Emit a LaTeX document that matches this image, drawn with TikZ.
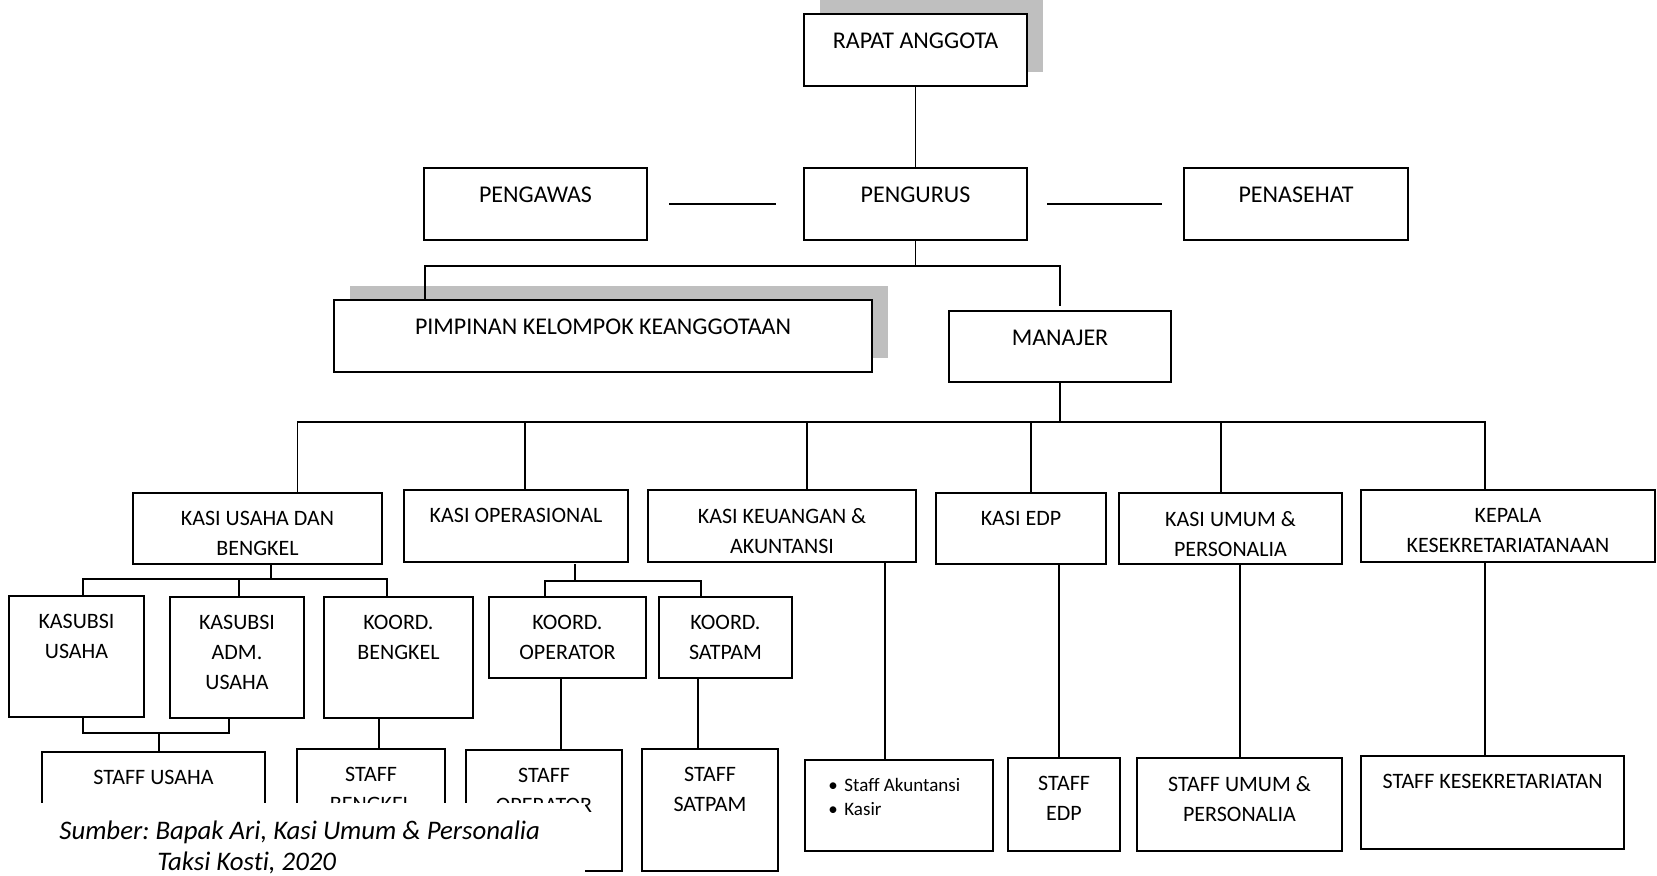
\documentclass[tikz,border=0pt]{standalone}
\usepackage{fontspec}
\setmainfont{Carlito}[Ligatures=NoCommon]
\frenchspacing
\usetikzlibrary{positioning,calc,shadows}
\definecolor{shadowgray}{RGB}{191,191,191}

\begin{document}
\begin{tikzpicture}[x=0.5pt, y=-0.5pt,
    box/.style={draw, fill=white, line width=0.8pt, inner sep=0pt, outer sep=0pt},
    shade/.style={drop shadow={shadow xshift=8pt, shadow yshift=7pt, opacity=1, fill=shadowgray}},
    big/.style={inner sep=0pt, align=center, font=\fontsize{12}{15}\selectfont},
    txt/.style={inner sep=0pt, align=center, font=\fontsize{11}{15}\selectfont},
    link/.style={line width=0.7pt},
    src/.style={inner sep=0pt, font=\fontsize{13.4}{15.5}\selectfont\itshape}]
    \useasboundingbox (0,0) rectangle (1657,875);

    % Top levels
    \node[box, shade, minimum width=111.5pt, minimum height=36pt] (rapat) at (915.5,50) {};
    \node[box, minimum width=111.5pt, minimum height=36pt] (pengurus) at (915.5,204) {};
    \node[box, minimum width=111.5pt, minimum height=36pt] (pengawas) at (535.5,204) {};
    \node[box, minimum width=112pt, minimum height=36pt] (penasehat) at (1296,204) {};
    \node[box, shade, minimum width=269pt, minimum height=36pt] (pimpinan) at (603,336) {};
    \node[box, minimum width=111pt, minimum height=35.5pt] (manajer) at (1060,346.5) {};

    \node[big, below=9.5pt of rapat.north] (rapat-t) {RAPAT ANGGOTA};
    \node[big, below=9.5pt of pengurus.north] (pengurus-t) {PENGURUS};
    \node[big, below=9.5pt of pengawas.north] (pengawas-t) {PENGAWAS};
    \node[big, below=9.5pt of penasehat.north] (penasehat-t) {PENASEHAT};
    \node[big, below=9.5pt of pimpinan.north] (pimpinan-t) {PIMPINAN KELOMPOK KEANGGOTAAN};
    \node[big, below=9.5pt of manajer.north] (manajer-t) {MANAJER};

    % Sections
    \node[box, minimum width=124.5pt, minimum height=35.5pt] (kasiusaha) at (257.5,528.5) {};
    \node[box, minimum width=112pt, minimum height=36pt] (kasiops) at (516,526) {};
    \node[box, minimum width=134pt, minimum height=36pt] (kasikeu) at (782,526) {};
    \node[box, minimum width=85pt, minimum height=35.5pt] (kasiedp) at (1021,528.5) {};
    \node[box, minimum width=111.5pt, minimum height=35.5pt] (kasiumum) at (1230.5,528.5) {};
    \node[box, minimum width=147pt, minimum height=36pt] (kepala) at (1508,526) {};

    \node[txt, below=9pt of kasiusaha.north] (kasiusaha-t) {KASI USAHA DAN\\BENGKEL};
    \node[txt, below=9pt of kasiops.north] (kasiops-t) {KASI OPERASIONAL};
    \node[txt, below=9pt of kasikeu.north] (kasikeu-t) {KASI KEUANGAN \&\\AKUNTANSI};
    \node[txt, below=9pt of kasiedp.north] (kasiedp-t) {KASI EDP};
    \node[txt, below=9pt of kasiumum.north] (kasiumum-t) {KASI UMUM \&\\PERSONALIA};
    \node[txt, below=9pt of kepala.north] (kepala-t) {KEPALA\\KESEKRETARIATANAAN};

    % Sub sections
    \node[box, minimum width=67.5pt, minimum height=60.5pt] (ksusaha) at (76.5,656.5) {};
    \node[box, minimum width=67pt, minimum height=60.5pt] (ksadm) at (237,657.5) {};
    \node[box, minimum width=74.5pt, minimum height=60.5pt] (kbengkel) at (398.5,657.5) {};
    \node[box, minimum width=78.5pt, minimum height=40.5pt] (koperator) at (567.5,637.5) {};
    \node[box, minimum width=66.5pt, minimum height=40.5pt] (ksatpam) at (725.5,637.5) {};

    \node[txt, below=9pt of ksusaha.north] (ksusaha-t) {KASUBSI\\USAHA};
    \node[txt, below=9pt of ksadm.north] (ksadm-t) {KASUBSI\\ADM.\\USAHA};
    \node[txt, below=9pt of kbengkel.north] (kbengkel-t) {KOORD.\\BENGKEL};
    \node[txt, below=9pt of koperator.north] (koperator-t) {KOORD.\\OPERATOR};
    \node[txt, below=9pt of ksatpam.north] (ksatpam-t) {KOORD.\\SATPAM};

    % Staff
    \node[box, minimum width=111.5pt, minimum height=59.5pt] (susaha) at (153.5,811.5) {};
    \node[box, minimum width=74pt, minimum height=61pt] (sbengkel) at (371,810) {};
    \node[box, minimum width=78pt, minimum height=60.5pt] (soperator) at (544,810.5) {};
    \node[box, minimum width=68pt, minimum height=61pt] (ssatpam) at (710,810) {};
    \node[box, minimum width=94pt, minimum height=45.5pt] (sakun) at (899,805.5) {};
    \node[box, minimum width=56pt, minimum height=46.5pt] (sedp) at (1064,804.5) {};
    \node[box, minimum width=102.5pt, minimum height=46.5pt] (sumum) at (1239.5,804.5) {};
    \node[box, minimum width=131.5pt, minimum height=46.5pt] (skesek) at (1492.5,802.5) {};

    \node[txt, below=9pt of susaha.north] (susaha-t) {STAFF USAHA};
    \node[txt, below=9pt of sbengkel.north] (sbengkel-t) {STAFF\\BENGKEL};
    \node[txt, below=9pt of soperator.north] (soperator-t) {STAFF\\OPERATOR};
    \node[txt, below=9pt of ssatpam.north] (ssatpam-t) {STAFF\\SATPAM};
    \node[txt, font=\fontsize{9.5}{12}\selectfont, align=left, anchor=north west] (sakun-t)
        at ($(sakun.north west)+(23,17.5)$)
        {\makebox[8pt][l]{\textbullet}Staff Akuntansi\\\makebox[8pt][l]{\textbullet}Kasir};
    \node[txt, below=9pt of sedp.north] (sedp-t) {STAFF\\EDP};
    \node[txt, below=9pt of sumum.north] (sumum-t) {STAFF UMUM \&\\PERSONALIA};
    \node[txt, below=9pt of skesek.north] (skesek-t) {STAFF KESEKRETARIATAN};

    % Lines at the top
    \draw[link] (rapat.south) -- (pengurus.north);
    \draw[link, line width=1pt] ($(pengawas.east)+(22,0)$) -- ($(pengurus.west)+(-28,0)$);
    \draw[link, line width=1pt] ($(pengurus.east)+(20,0)$) -- ($(penasehat.west)+(-22,0)$);
    \draw[link] (pengurus.south) -- ++(0,26) coordinate (fan1);
    \draw[link] ($(pimpinan.north)+(-178,0)$) |- (fan1) -| ($(manajer.north)+(0,-5)$);

    % Manajer to the sections
    \draw[link] (manajer.south) -- ++(0,40) coordinate (fan2);
    \foreach \n/\dx in {kasiusaha/40, kasiops/9, kasikeu/25, kasiedp/10, kasiumum/-9.5, kepala/-23}
        \draw[link] ($(\n.north)+(\dx,0)$) |- (fan2);

    % Kasi usaha dan bengkel
    \draw[link] ($(kasiusaha.south)+(13.5,0)$) -- ++(0,15) coordinate (fan3);
    \foreach \n/\dx in {ksusaha/6.5, ksadm/2, kbengkel/-11.5}
        \draw[link] ($(\n.north)+(\dx,0)$) |- (fan3);
    \draw[link] ($(ksusaha.south)+(6.5,0)$) -- ++(0,16) coordinate (fan4) -| ($(ksadm.south)+(-8,0)$);
    \draw[link] ($(susaha.north)+(5.5,0)$) |- (fan4);

    % Kasi operasional
    \draw[link] ($(kasiops.south)+(59,2)$) -- ++(0,17) coordinate (fan5);
    \foreach \n/\dx in {koperator/-22.5, ksatpam/-24.5}
        \draw[link] ($(\n.north)+(\dx,0)$) |- (fan5);

    % Straight down to the staff
    \foreach \p/\q/\dx in {kbengkel/sbengkel/-19.5, koperator/soperator/-6.5,
        ksatpam/ssatpam/-27.5, kasikeu/sakun/103, kasiedp/sedp/38,
        kasiumum/sumum/9.5, kepala/skesek/-23}
        \draw[link] ($(\p.south)+(\dx,0)$) |- (\q.north);

    % Source note
    \fill[white] (0,803) rectangle (585,875);
    \node[src, anchor=base west] (src-1) at (59,839) {Sumber: Bapak Ari, Kasi Umum \& Personalia};
    \node[src, anchor=base west] (src-2) at (157,870) {Taksi Kosti, 2020};
\end{tikzpicture}
\end{document}
